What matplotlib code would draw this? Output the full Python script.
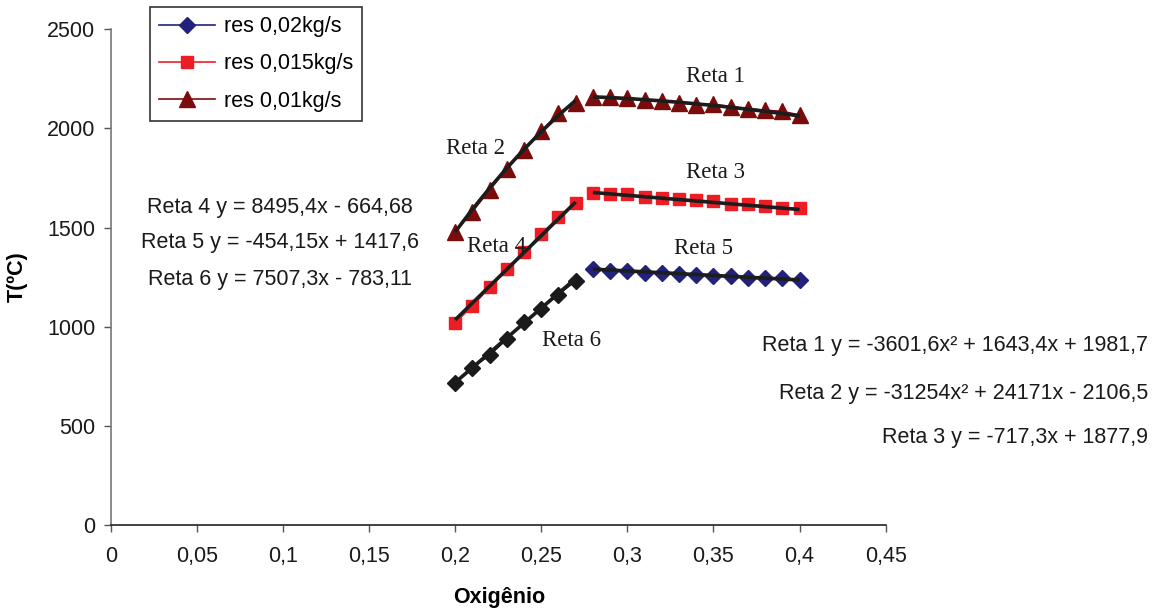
import matplotlib
matplotlib.use("Agg")
import matplotlib.pyplot as plt
import numpy as np

# Oxygen fraction on the x axis
x_left = [0.20, 0.21, 0.22, 0.23, 0.24, 0.25, 0.26, 0.27]
x_right = [0.28, 0.29, 0.30, 0.31, 0.32, 0.33, 0.34, 0.35, 0.36, 0.37, 0.38, 0.39, 0.40]

# Temperature (ºC) for each residue flow
t_002_left = [715, 793, 857, 937, 1025, 1090, 1162, 1232]
t_002_right = [1290, 1282, 1280, 1273, 1271, 1264, 1262, 1257, 1254, 1247, 1245, 1246, 1234]
t_0015_left = [1020, 1105, 1198, 1290, 1376, 1468, 1553, 1625]
t_0015_right = [1675, 1668, 1667, 1655, 1650, 1642, 1640, 1632, 1620, 1618, 1610, 1600, 1597]
t_001_left = [1480, 1580, 1690, 1795, 1893, 1985, 2078, 2130]
t_001_right = [2158, 2157, 2155, 2145, 2140, 2130, 2120, 2122, 2110, 2100, 2092, 2086, 2068]

series_labels = ["res 0,02kg/s", "res 0,015kg/s", "res 0,01kg/s"]

# Trend line coefficients (highest power first)
reta1 = [-3601.6, 1643.4, 1981.7]
reta2 = [-31254, 24171, -2106.5]
reta3 = [-717.3, 1877.9]
reta4 = [8495.4, -664.68]
reta5 = [-454.15, 1417.6]
reta6 = [7507.3, -783.11]

x_ticks = [0, 0.05, 0.1, 0.15, 0.2, 0.25, 0.3, 0.35, 0.4, 0.45]
x_ticklabels = ["0", "0,05", "0,1", "0,15", "0,2", "0,25", "0,3", "0,35", "0,4", "0,45"]
y_ticks = [0, 500, 1000, 1500, 2000, 2500]

NAVY = "#22227a"
RED = "#ee1c24"
DKRED = "#7a0c0c"

W, H = 1161, 612
fig = plt.figure(figsize=(W / 100, H / 100), dpi=100)
ax = fig.add_axes([110.7 / W, 1 - 525 / H, 775 / W, (525 - 29.3) / H])

SANS = "Liberation Sans"
SERIF = "Liberation Serif"
FS = 15.5

# Data series
ax.plot(x_left, t_002_left, color="black", lw=1.2, marker="D", ms=8.5, mfc="#1a1a1a", mec="#1a1a1a", zorder=3)
h1, = ax.plot(x_right, t_002_right, color=NAVY, lw=1.2, marker="D", ms=8.5, mfc=NAVY, mec=NAVY, zorder=3)
ax.plot(x_left, t_0015_left, color=RED, lw=1.2, marker="s", ms=9, mfc=RED, mec=RED, zorder=3)
h2, = ax.plot(x_right, t_0015_right, color=RED, lw=1.2, marker="s", ms=9, mfc=RED, mec=RED, zorder=3)
ax.plot(x_left, t_001_left, color=DKRED, lw=1.2, marker="^", ms=11, mfc=DKRED, mec=DKRED, zorder=3)
h3, = ax.plot(x_right, t_001_right, color=DKRED, lw=1.2, marker="^", ms=11, mfc=DKRED, mec=DKRED, zorder=3)

# Trend lines
xl = np.linspace(x_left[0], x_left[-1], 50)
xr = np.linspace(x_right[0], x_right[-1], 50)
tc = "#1c1c1c"
for coeffs, xs in [(reta1, xr), (reta2, xl), (reta3, xr), (reta4, xl), (reta5, xr), (reta6, xl)]:
    ax.plot(xs, np.polyval(coeffs, xs), color=tc, lw=2.6, zorder=4, solid_capstyle="butt")

ax.set_xlim(0, 0.45)
ax.set_ylim(0, 2500)
ax.set_xticks(x_ticks)
ax.set_xticklabels(x_ticklabels)
ax.set_yticks(y_ticks)
for lbl in ax.get_xticklabels() + ax.get_yticklabels():
    lbl.set_fontfamily(SANS)
    lbl.set_fontsize(FS)
    lbl.set_color("#1a1a1a")
ax.tick_params(axis="both", direction="out", length=5, width=1, colors="#555555", labelcolor="#1a1a1a")
ax.tick_params(axis="x", pad=10)
ax.tick_params(axis="y", pad=6)
for s in ["top", "right"]:
    ax.spines[s].set_visible(False)
ax.spines["left"].set_color("#777777")
ax.spines["bottom"].set_color("#222222")
ax.spines["left"].set_linewidth(1.2)
ax.spines["bottom"].set_linewidth(1.2)

fig.text(499 / W, 1 - 598 / H, "Oxigênio", fontfamily=SANS, fontsize=FS, fontweight="bold",
         ha="center", va="center")
fig.text(17 / W, 1 - 277 / H, "T(ºC)", fontfamily=SANS, fontsize=FS, fontweight="bold",
         ha="center", va="center", rotation=90)

leg = fig.legend([h1, h2, h3], series_labels, loc="upper left",
                 bbox_to_anchor=(150 / W, 1 - 7 / H), prop={"family": SANS, "size": FS},
                 frameon=True, fancybox=False, framealpha=1, edgecolor="#333333",
                 handlelength=2.6, labelspacing=0.76, borderpad=0.42, handletextpad=0.4,
                 borderaxespad=0)
leg.get_frame().set_linewidth(1.2)

# Curve names
for txt, px, py in [("Reta 1", 715, 77), ("Reta 2", 476, 149), ("Reta 3", 715, 172),
                    ("Reta 4", 497, 246), ("Reta 5", 703, 248), ("Reta 6", 571, 340)]:
    fig.text(px / W, 1 - py / H, txt, fontfamily=SERIF, fontsize=16.5, color="#1a1a1a",
             ha="center", va="center")

# Trend line equations
for txt, py in [("Reta 4 y = 8495,4x - 664,68", 207), ("Reta 5 y = -454,15x + 1417,6", 243),
                ("Reta 6 y = 7507,3x - 783,11", 280)]:
    fig.text(280 / W, 1 - py / H, txt, fontfamily=SANS, fontsize=FS, color="#1a1a1a",
             ha="center", va="center")
for txt, py in [("Reta 1 y = -3601,6x² + 1643,4x + 1981,7", 345),
                ("Reta 2 y = -31254x² + 24171x - 2106,5", 393),
                ("Reta 3 y = -717,3x + 1877,9", 438)]:
    fig.text(1148 / W, 1 - py / H, txt, fontfamily=SANS, fontsize=FS, color="#1a1a1a",
             ha="right", va="center")

fig.savefig("out.png", dpi=100)
